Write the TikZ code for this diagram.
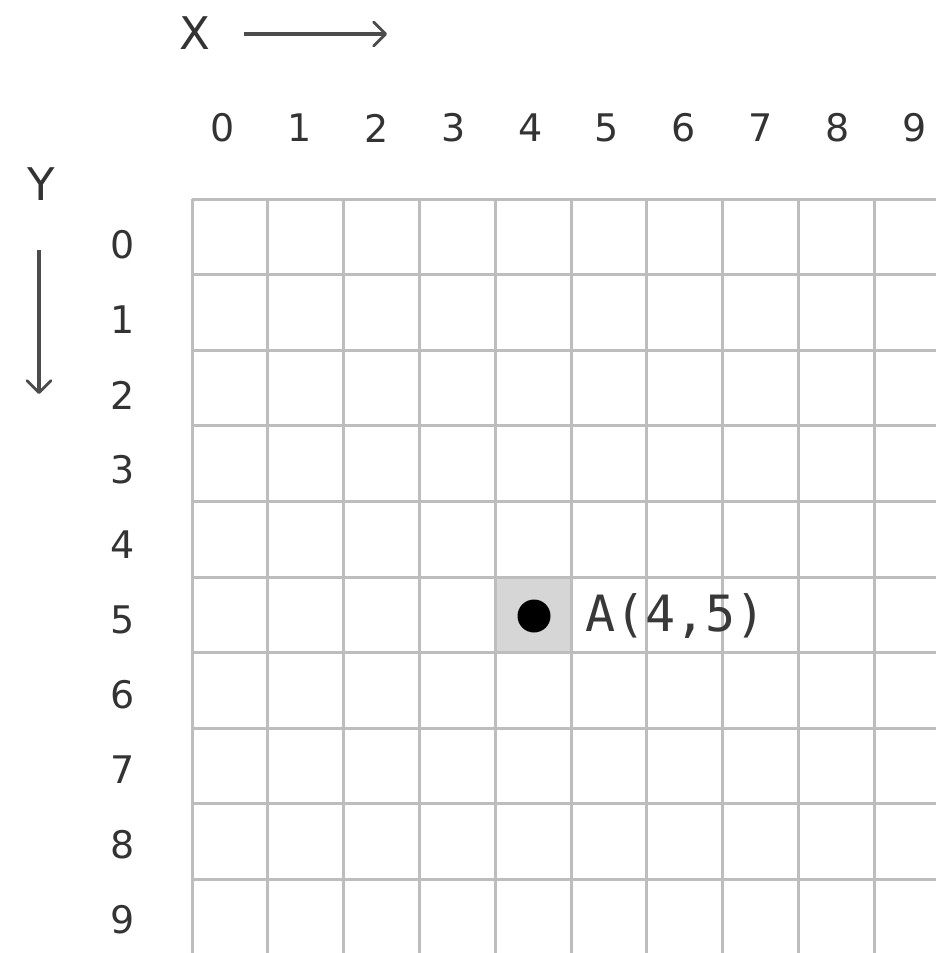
\documentclass[tikz,border=0pt]{standalone}
\usepackage{fontspec}
\setmainfont{DejaVu Sans}
\newfontfamily\monofnt{DejaVu Sans Mono}
\usetikzlibrary{arrows.meta}
\tikzset{
  gridline/.style={draw=black!26, line width=3pt},
  axisarrow/.style={draw=black!70, line width=3.4pt, -{Straight Barb[length=12pt,width=24pt,line width=2.8pt,round]}},
  numlabel/.style={inner sep=0pt, text=black!80, font=\fontsize{38}{44}\selectfont},
  axlabel/.style={inner sep=0pt, text=black!80, font=\fontsize{45}{50}\selectfont},
}
\begin{document}
\begin{tikzpicture}[x=1pt,y=-1pt]
\useasboundingbox (0,0) rectangle (936,953);
\fill[white] (0,0) rectangle (936,953);
% highlighted cell
\fill[black!16] (495.2,577) rectangle (571,653);
% grid
\foreach \i in {0,...,9} {
  \draw[gridline] ({192+75.8*\i},199) -- ({192+75.8*\i},953);
  \draw[gridline] (192,{199+75.6*\i}) -- (936,{199+75.6*\i});
}
% labels
\foreach \i in {0,...,9} {
  \node[numlabel] (tx\i) at ({223+76.8*\i},128) {\i};
  \node[numlabel] (ly\i) at (123,{245+75*\i}) {\i};
}
% axes
\node[axlabel] (X) at (195,33) {X};
\coordinate (xs) at (244,34);
\coordinate (xe) at (387,34);
\draw[axisarrow] (xs) -- (xe);
\node[axlabel] (Y) at (41,184) {Y};
\coordinate (ys) at (39,250);
\coordinate (ye) at (39,394);
\draw[axisarrow] (ys) -- (ye);
% point
\node[circle, fill=black, inner sep=0pt, minimum size=33pt] (A) at (534,616) {};
\node[anchor=west, inner sep=0pt, text=black!78, font=\monofnt\fontsize{50}{56}\selectfont] (Alab) at (585,616) {A(4,5)};
\end{tikzpicture}
\end{document}
